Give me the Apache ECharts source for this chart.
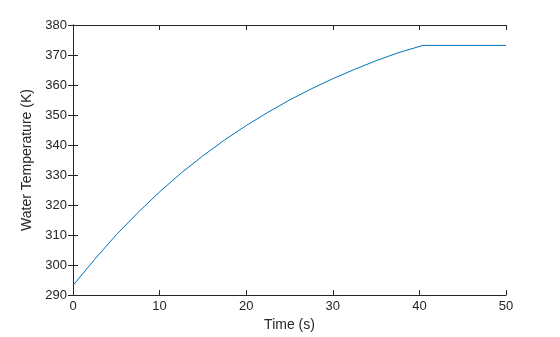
<!DOCTYPE html>
<html>
<head>
<meta charset="utf-8">
<script src="https://cdn.jsdelivr.net/npm/echarts@6/dist/echarts.min.js"></script>
<style>html,body{margin:0;padding:0;background:#fff}#c{width:560px;height:337px}</style>
</head>
<body>
<div id="c"></div>
<script>
var timeValues = [0, 2.5, 5, 7.5, 10, 12.5, 15, 17.5, 20, 22.5, 25, 27.5, 30, 32.5, 35, 37.5, 40.4, 50];
var tempValues = [293.2, 301.9, 310.1, 317.5, 324.4, 330.7, 336.4, 341.7, 346.5, 350.9, 355.0, 358.7, 362.1, 365.2, 368.1, 370.7, 373.2, 373.2];
var xTicks = [0, 10, 20, 30, 40, 50];
var yTicks = [290, 300, 310, 320, 330, 340, 350, 360, 370, 380];

var points = timeValues.map(function (t, i) { return [t, tempValues[i]]; });
var axisColor = '#262626';
var font = 'Liberation Sans, Arial, Helvetica, sans-serif';

var chart = echarts.init(document.getElementById('c'), null, { renderer: 'canvas' });
function baseAxis(extra) {
  var a = {
    type: 'value',
    axisLine: { show: true, lineStyle: { color: axisColor, width: 1 } },
    axisTick: { show: true, inside: true, length: 5, lineStyle: { color: axisColor } },
    splitLine: { show: false },
    axisLabel: { color: axisColor, fontSize: 13, fontFamily: font }
  };
  for (var k in extra) a[k] = extra[k];
  return a;
}
chart.setOption({
  animation: false,
  backgroundColor: '#ffffff',
  grid: { left: 73, right: 54, top: 25, bottom: 39, containLabel: false },
  xAxis: [
    baseAxis({ position: 'bottom', min: xTicks[0], max: xTicks[xTicks.length - 1], interval: 10,
      name: 'Time (s)', nameLocation: 'middle', nameGap: 20,
      nameTextStyle: { color: axisColor, fontSize: 14, fontFamily: font, align: 'center', verticalAlign: 'top' },
      axisLabel: { color: axisColor, fontSize: 13, fontFamily: font, margin: 5 } }),
    baseAxis({ position: 'top', min: xTicks[0], max: xTicks[xTicks.length - 1], interval: 10,
      axisLabel: { show: false } })
  ],
  yAxis: [
    baseAxis({ position: 'left', min: yTicks[0], max: yTicks[yTicks.length - 1], interval: 10,
      name: 'Water Temperature (K)', nameLocation: 'middle', nameGap: 33,
      nameTextStyle: { color: axisColor, fontSize: 14, fontFamily: font, align: 'center', verticalAlign: 'bottom' },
      axisLabel: { color: axisColor, fontSize: 13, fontFamily: font, margin: 6 } }),
    baseAxis({ position: 'right', min: yTicks[0], max: yTicks[yTicks.length - 1], interval: 10,
      axisLabel: { show: false } })
  ],
  series: [{
    type: 'line',
    data: points,
    showSymbol: false,
    symbol: 'none',
    lineStyle: { color: '#0072BD', width: 1 },
    xAxisIndex: 0,
    yAxisIndex: 0
  }]
});
</script>
</body>
</html>
